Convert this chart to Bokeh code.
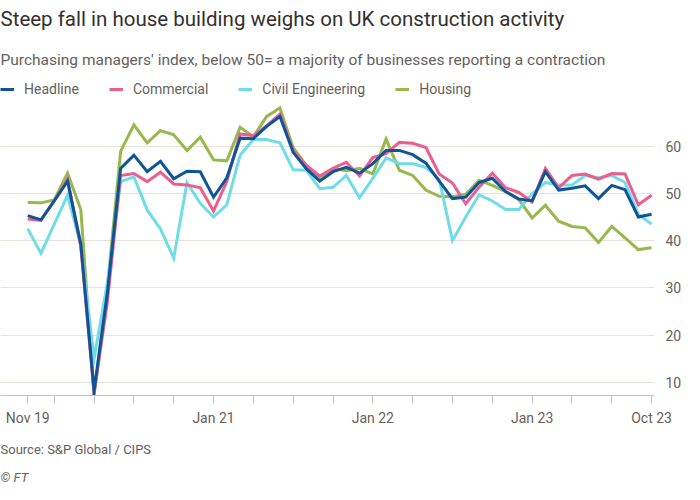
from bokeh.plotting import figure
from bokeh.models import (ColumnDataSource, FixedTicker, Title, Legend, LegendItem, Range1d)
from bokeh.embed import file_html
from bokeh.resources import INLINE

# ---- data (monthly, Nov 2019 .. Oct 2023) ----
month_index = list(range(48))
headline = [45.3, 44.4, 48.4, 52.6, 39.3, 8.2, 28.9, 55.3, 58.1, 54.6, 56.8, 53.1, 54.7, 54.6,
            49.2, 53.3, 61.7, 61.6, 64.2, 66.3, 58.7, 55.2, 52.6, 54.6, 55.5, 54.3,
            56.3, 59.1, 59.1, 58.2, 56.4, 52.6, 48.9, 49.2, 52.3, 53.2, 50.4, 48.8,
            48.4, 54.6, 50.7, 51.1, 51.6, 48.9, 51.7, 50.8, 45.0, 45.6]
commercial = [44.6, 44.3, 48.5, 53.0, 38.7, 7.6, 27.0, 53.8, 54.2, 52.5, 54.5, 52.0, 51.8, 51.2,
              46.3, 52.5, 62.6, 62.2, 64.3, 66.8, 59.1, 55.9, 53.7, 55.3, 56.6, 53.7,
              57.6, 58.4, 60.8, 60.6, 59.7, 54.1, 52.2, 47.8, 51.3, 54.3, 51.2, 50.2,
              48.2, 55.3, 51.2, 53.8, 54.1, 53.0, 54.2, 54.1, 47.6, 49.6]
civil = [42.5, 37.3, 43.5, 49.6, 39.0, 15.0, 31.0, 52.5, 53.5, 46.5, 42.5, 36.3, 52.3, 47.9,
         45.0, 47.6, 58.1, 61.4, 61.4, 60.7, 55.0, 54.9, 51.0, 51.3, 53.8, 49.1,
         53.2, 57.5, 56.3, 56.3, 55.5, 53.0, 40.0, 45.0, 49.7, 48.4, 46.6, 46.6,
         49.9, 52.3, 51.8, 51.8, 53.8, 53.3, 53.8, 52.3, 45.6, 43.5]
housing = [48.1, 48.0, 48.6, 54.3, 46.6, 7.3, 30.0, 58.9, 64.5, 60.7, 63.3, 62.4, 59.1, 61.9,
           57.1, 56.9, 64.0, 62.0, 66.3, 68.1, 59.7, 55.9, 53.0, 55.3, 54.8, 55.3,
           54.1, 61.5, 54.9, 53.8, 50.7, 49.4, 49.3, 49.8, 52.8, 51.7, 50.4, 48.7,
           44.8, 47.5, 44.1, 43.0, 42.7, 39.6, 43.0, 40.6, 38.1, 38.5]

series_names = ["Headline", "Commercial", "Civil Engineering", "Housing"]
series_colors = ["#0f5499", "#eb5e8d", "#70dce6", "#96b84c"]

x_tick_positions = [0, 2, 5, 8, 11, 14, 17, 20, 23, 26, 29, 32, 35, 38, 41, 44, 47]
x_tick_labels = {0: "Nov 19", 14: "Jan 21", 26: "Jan 22", 38: "Jan 23", 47: "Oct 23"}
y_ticks = [10, 20, 30, 40, 50, 60]

FONT = "Roboto"
DARK = "#33302e"
GREY = "#66605c"

src = ColumnDataSource(dict(x=month_index, headline=headline, commercial=commercial,
                            civil=civil, housing=housing))

p = figure(width=684, height=484, output_backend="svg", toolbar_location=None,
           x_range=Range1d(-2.05, 47.22), y_range=Range1d(7.2, 73.7),
           y_axis_location="right", min_border_left=0, min_border_right=22,
           min_border_top=0, min_border_bottom=0)
p.outline_line_color = None
p.background_fill_color = "white"
p.border_fill_color = "white"

cols = ["headline", "commercial", "civil", "housing"]
renderers = {}
for col, name, color in reversed(list(zip(cols, series_names, series_colors))):
    r = p.line("x", col, source=src, line_color=color, line_width=3, line_join="miter")
    renderers[name] = r

# axes
p.xaxis.ticker = FixedTicker(ticks=x_tick_positions)
p.xaxis.major_label_overrides = {t: x_tick_labels.get(t, "") for t in x_tick_positions}
p.xaxis.minor_tick_line_color = None
p.xaxis.major_tick_in = 0
p.xaxis.major_tick_out = 8
p.xaxis.major_tick_line_color = "#ccc1b7"
p.xaxis.axis_line_color = "#ccc1b7"
p.xaxis.major_label_text_font = FONT
p.xaxis.major_label_text_font_size = "14px"
p.xaxis.major_label_text_color = GREY
p.xaxis.major_label_standoff = 6

p.yaxis.ticker = FixedTicker(ticks=y_ticks)
p.yaxis.axis_line_color = None
p.yaxis.major_tick_line_color = None
p.yaxis.minor_tick_line_color = None
p.yaxis.major_label_text_font = FONT
p.yaxis.major_label_text_font_size = "14px"
p.yaxis.major_label_text_color = GREY
p.yaxis.major_label_standoff = 5

p.xgrid.grid_line_color = None
p.ygrid.ticker = FixedTicker(ticks=y_ticks)
p.ygrid.grid_line_color = "#e9e2dc"
p.ygrid.grid_line_width = 1

legend = Legend(items=[LegendItem(label=n, renderers=[renderers[n]]) for n in series_names],
                orientation="horizontal", location="top_left",
                glyph_width=14, glyph_height=10, label_standoff=10, spacing=30,
                padding=0, margin=0, border_line_color=None, background_fill_alpha=0,
                label_text_font=FONT, label_text_font_size="14px", label_text_color=GREY)
p.add_layout(legend, "center")

sub = Title(text="Purchasing managers' index, below 50= a majority of businesses reporting a contraction",
            text_font=FONT, text_font_size="15.5px", text_font_style="normal",
            text_color=GREY, align="left", offset=0, standoff=26)
p.add_layout(sub, "above")
main = Title(text="Steep fall in house building weighs on UK construction activity",
             text_font=FONT, text_font_size="20.5px", text_font_style="normal",
             text_color=DARK, align="left", offset=0, standoff=9)
p.add_layout(main, "above")

src_t = Title(text="Source: S&P Global / CIPS", text_font=FONT, text_font_size="13px",
              text_font_style="normal", text_color=GREY, align="left", offset=0, standoff=22)
p.add_layout(src_t, "below")
ft_t = Title(text="\u00a9 FT", text_font=FONT, text_font_size="13px",
             text_font_style="italic", text_color=GREY, align="left", offset=0, standoff=0)
p.add_layout(ft_t, "below")

open("out.html", "w").write(file_html(p, INLINE))
